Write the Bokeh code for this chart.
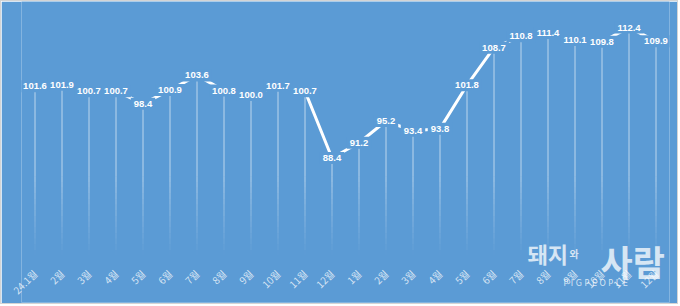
import numpy as np
from bokeh.plotting import figure
from bokeh.models import Range1d, FixedTicker, ColumnDataSource, Label
from bokeh.core.properties import value
from bokeh.embed import file_html
from bokeh.resources import INLINE

# ---- data ----
months = ["24.1월", "2월", "3월", "4월", "5월", "6월", "7월", "8월", "9월", "10월", "11월", "12월",
          "1월", "2월", "3월", "4월", "5월", "6월", "7월", "8월", "9월", "10월", "11월", "12월"]
index_values = [101.6, 101.9, 100.7, 100.7, 98.4, 100.9, 103.6, 100.8, 100.0, 101.7, 100.7, 88.4,
                91.2, 95.2, 93.4, 93.8, 101.8, 108.7, 110.8, 111.4, 110.1, 109.8, 112.4, 109.9]
value_labels = [f"{v:.1f}" for v in index_values]

BG = "#5B9BD5"
Y0, Y1 = 61.8, 117.2
LINE_BOTTOM = 70.4

xs = list(range(len(months)))

p = figure(width=678, height=304, output_backend="svg", toolbar_location=None,
           x_range=Range1d(-0.5, len(months) - 0.5), y_range=Range1d(Y0, Y1),
           min_border_left=20, min_border_right=10, min_border_top=0, min_border_bottom=0,
           background_fill_color=BG, border_fill_color=BG, outline_line_color=None,
           styles={"border": "1px solid #D4D4D4"})
p.grid.visible = False
p.yaxis.visible = False

# connecting line
p.line(xs, index_values, line_color="white", line_width=3)

# drop lines: solid upper part, fading lower part
fade_top = 85.0
src_top = ColumnDataSource(dict(x=xs, y0=[fade_top] * len(xs), y1=index_values))
p.segment(x0="x", y0="y0", x1="x", y1="y1", source=src_top, line_color="white",
          line_alpha=0.6, line_width=1)
n = 14
edges = np.linspace(fade_top, LINE_BOTTOM, n + 1)
for k in range(n):
    a = 0.6 * (1 - (k + 0.5) / n)
    p.segment(x0=xs, y0=[edges[k]] * len(xs), x1=xs, y1=[edges[k + 1]] * len(xs),
              line_color="white", line_alpha=a, line_width=1)

lbl_kw = dict(text_font=value("Liberation Sans"), text_font_size="9.5px", text_font_style="bold",
              text_align="center", text_baseline="middle")
# background boxes that hide the line under each value label
p.text(x=xs, y=index_values, text=value_labels, text_alpha=0,
       background_fill_color=BG, padding=3, **lbl_kw)
# value labels
p.text(x=xs, y=index_values, text=value_labels, text_color="white", **lbl_kw)

# x axis (labels pulled up into the frame area)
ax = p.xaxis[0]
ax.ticker = FixedTicker(ticks=xs)
ax.major_label_overrides = {i: m for i, m in enumerate(months)}
ax.major_label_orientation = np.pi / 4
ax.axis_line_color = None
ax.major_tick_line_color = None
ax.minor_tick_line_color = None
ax.major_label_text_color = "white"
ax.major_label_text_alpha = 0.75
ax.major_label_text_font = "Noto Sans CJK KR"
ax.major_label_text_font_size = "10px"
ax.major_label_standoff = -37

# watermark (screen units are relative to the frame's bottom-left)
wm = [("돼지", 506, 34, "22px"), ("와", 548, 42, "10px"), ("사람", 579, 17, "35px")]
for t, sx, sy, fs in wm:
    p.add_layout(Label(x=sx, y=sy, x_units="screen", y_units="screen", text=t,
                       text_color="white", text_alpha=0.75, text_font="Noto Sans CJK KR",
                       text_font_size=fs, text_font_style="bold"))
p.add_layout(Label(x=542, y=15, x_units="screen", y_units="screen", text="P I G P E O P L E",
                   text_color="white", text_alpha=0.75, text_font="DejaVu Sans",
                   text_font_size="8px"))

open("out.html", "w").write(file_html(p, INLINE))
